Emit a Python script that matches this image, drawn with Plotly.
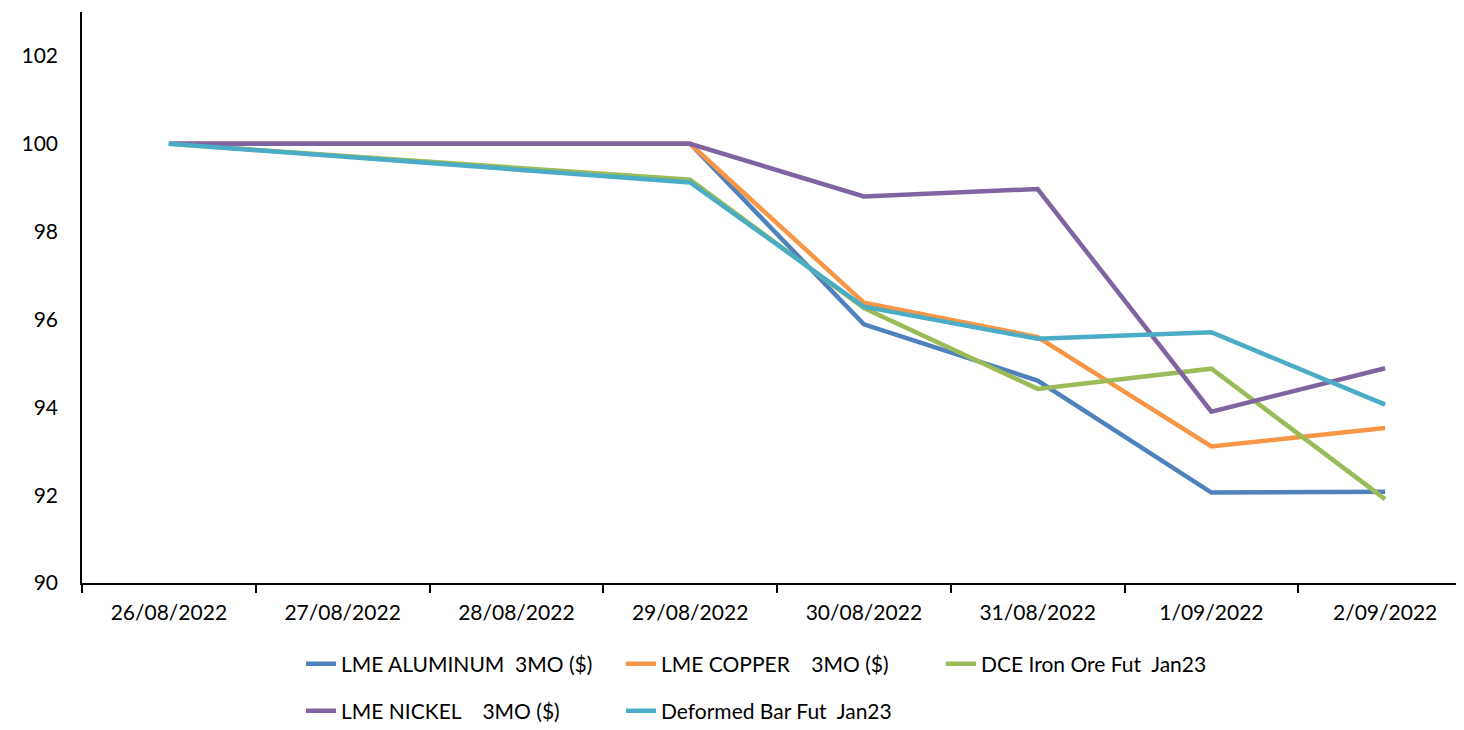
import plotly.graph_objects as go

dates = ["26/08/2022", "27/08/2022", "28/08/2022", "29/08/2022",
         "30/08/2022", "31/08/2022", "1/09/2022", "2/09/2022"]

aluminum = [100, None, None, 100, 95.89, 94.61, 92.06, 92.08]
copper = [100, None, None, 100, 96.38, 95.60, 93.11, 93.53]
iron_ore = [100, None, None, 99.18, 96.26, 94.42, 94.88, 91.91]
nickel = [100, None, None, 100, 98.80, 98.97, 93.90, 94.89]
deformed_bar = [100, None, None, 99.12, 96.29, 95.56, 95.71, 94.06]

series = [
    ("LME ALUMINUM  3MO ($)", aluminum, "#4F81BD"),
    ("LME COPPER    3MO ($)", copper, "#F79646"),
    ("DCE Iron Ore Fut  Jan23", iron_ore, "#9BBB59"),
    ("LME NICKEL    3MO ($)", nickel, "#8064A2"),
    ("Deformed Bar Fut  Jan23", deformed_bar, "#4BACC6"),
]

# legend slot for each series (pixel left edge, pixel row centre), Excel-style 3 + 2 layout
legend_slots = [(293, 656), (613, 656), (933, 656), (293, 703), (613, 703)]

font = dict(family="Lato, 'Open Sans', sans-serif", size=21, color="#000000")

fig = go.Figure()
legends = {}
for i, ((name, vals, color), (lx, ly)) in enumerate(zip(series, legend_slots)):
    key = "legend" if i == 0 else f"legend{i + 1}"
    fig.add_trace(go.Scatter(
        x=dates, y=vals, name=name, mode="lines", connectgaps=True,
        line=dict(color=color, width=4.5), legend=key,
    ))
    legends[key] = dict(
        orientation="h", xref="container", yref="container",
        x=lx / 1464, y=1 - ly / 730, xanchor="left", yanchor="middle",
        font=font, bgcolor="rgba(0,0,0,0)",
    )

# the page body adds an 8px offset, so margins are trimmed to keep the axes in place
fig.update_layout(
    width=1464, height=730,
    margin=dict(l=74, r=0, t=4, b=155, autoexpand=False),
    paper_bgcolor="white", plot_bgcolor="white",
    font=font,
    showlegend=True,
    **legends,
)
fig.update_xaxes(
    type="category", categoryorder="array", categoryarray=dates,
    range=[-0.5, 7.5], tickson="boundaries", ticks="outside", ticklen=8,
    tickcolor="#000000", tickwidth=1.5, showline=True, linecolor="#000000", linewidth=1.5,
    showgrid=False, zeroline=False, ticklabelstandoff=10, automargin=False,
)
fig.update_yaxes(
    range=[90, 103], tickvals=[90, 92, 94, 96, 98, 100, 102], ticks="", ticklen=0,
    showline=True, linecolor="#000000", linewidth=1.5, showgrid=False, zeroline=False,
    ticklabelstandoff=18, automargin=False,
)

fig.write_html("out.html")
